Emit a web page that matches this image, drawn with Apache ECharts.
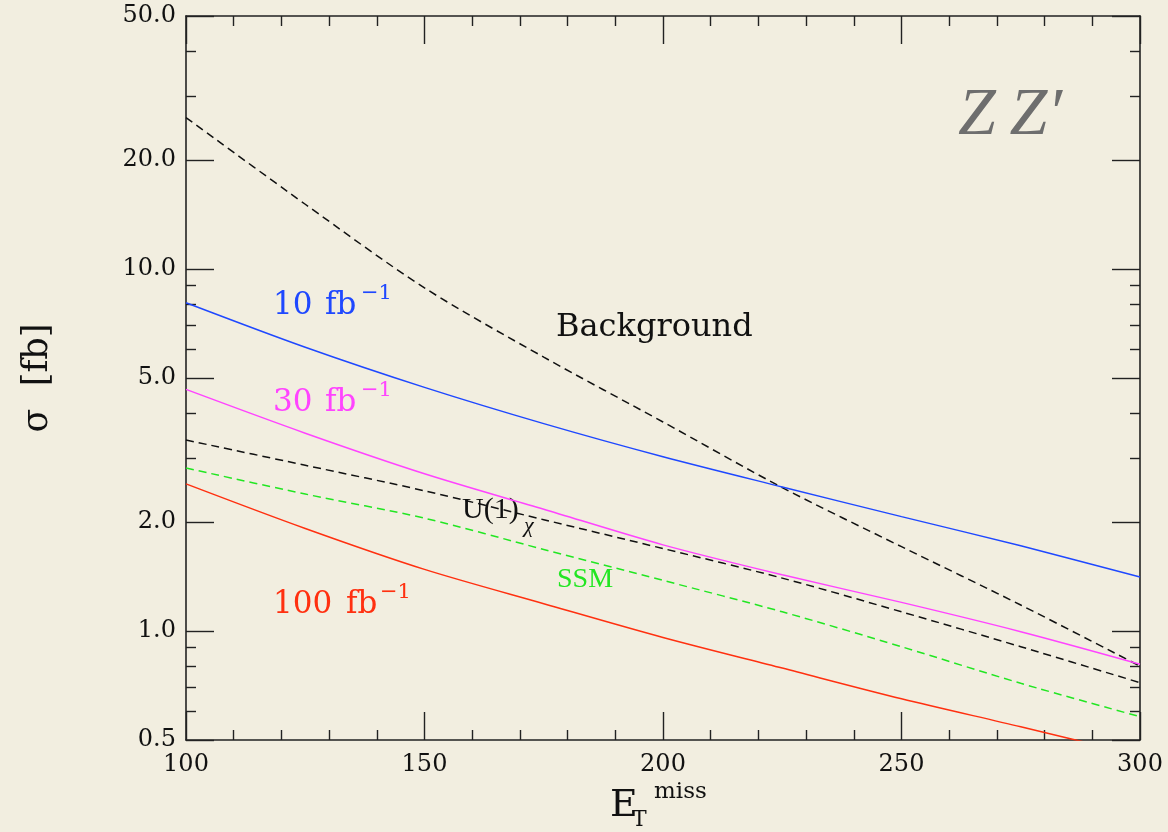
<!DOCTYPE html>
<html>
<head>
<meta charset="utf-8">
<title>ZZ' cross sections vs missing ET</title>
<script src="https://cdn.jsdelivr.net/npm/echarts@6/dist/echarts.min.js"></script>
<style>
  html, body { margin: 0; padding: 0; background: #f2eee0; }
  #chart { width: 1168px; height: 832px; }
</style>
</head>
<body>
<div id="chart"></div>
<script>
// Missing transverse energy cut values (GeV)
const etMiss = [100, 125, 150, 175, 200, 225, 250, 275, 300];

// Cross sections in fb
const discovery10 = [8.07, 6.08, 4.71, 3.74, 3.03, 2.50, 2.07, 1.72, 1.41];
const discovery30 = [4.65, 3.52, 2.72, 2.17, 1.73, 1.43, 1.20, 0.996, 0.81];
const discovery100 = [2.55, 1.92, 1.48, 1.19, 0.96, 0.79, 0.65, 0.544, 0.453];
const u1chi = [3.37, 2.87, 2.44, 2.03, 1.69, 1.40, 1.13, 0.905, 0.72];
const ssm = [2.82, 2.39, 2.05, 1.68, 1.38, 1.13, 0.905, 0.717, 0.58];
const background = [26.2, 15.1, 8.87, 5.71, 3.78, 2.49, 1.71, 1.18, 0.80];

// Axis ticks
const yMajorTicks = [0.5, 1, 2, 5, 10, 20, 50];
const yMinorTicks = [0.6, 0.7, 0.8, 0.9, 3, 4, 6, 7, 8, 9, 30, 40];

const chart = echarts.init(document.getElementById('chart'), null, { renderer: 'canvas' });

const AX = '#222';
const axisLine = { show: true, lineStyle: { color: AX, width: 1.6 } };
const tickLine = { color: AX, width: 1.4 };
const serif = 'DejaVu Serif';

function pairs(arr) {
  return etMiss.map((x, i) => [x, arr[i]]);
}

function curve(name, arr, color, dashed) {
  return {
    name: name,
    type: 'line',
    data: pairs(arr),
    showSymbol: false,
    smooth: 0.3,
    silent: true,
    clip: true,
    lineStyle: { color: color, width: 1.5, type: dashed ? [8, 5] : 'solid' }
  };
}

function yAxisDef(position, ticks, length, withLabels, withLine) {
  return {
    type: 'log',
    logBase: 10,
    min: 0.5,
    max: 50,
    position: position,
    axisLine: withLine ? axisLine : { show: false },
    axisTick: { show: true, inside: true, length: length, customValues: ticks, lineStyle: tickLine },
    axisLabel: withLabels ? {
      show: true,
      customValues: ticks,
      formatter: v => Number(v).toFixed(1),
      fontSize: 24,
      fontFamily: serif,
      color: '#111',
      margin: 10
    } : { show: false },
    splitLine: { show: false },
    minorTick: { show: false }
  };
}

function xAxisDef(position, withLabels) {
  return {
    type: 'value',
    min: 100,
    max: 300,
    interval: 50,
    position: position,
    axisLine: axisLine,
    axisTick: { show: true, inside: true, length: 28, lineStyle: tickLine },
    minorTick: { show: true, splitNumber: 5, length: 10, lineStyle: tickLine },
    axisLabel: withLabels ? {
      show: true, fontSize: 24, fontFamily: serif, color: '#111', margin: 13
    } : { show: false },
    splitLine: { show: false }
  };
}

const txt = (x, y, text, size, color, extra) => Object.assign({
  type: 'text', x: x, y: y, silent: true,
  style: Object.assign({
    text: text, fill: color, fontSize: size, fontFamily: serif,
    align: 'left', verticalAlign: 'middle'
  }, extra || {})
});

chart.setOption({
  animation: false,
  backgroundColor: '#f2eee0',
  grid: { left: 186, right: 28, top: 16, bottom: 92, containLabel: false },
  xAxis: [xAxisDef('bottom', true), xAxisDef('top', false)],
  yAxis: [
    yAxisDef('left', yMajorTicks, 28, true, true),
    yAxisDef('left', yMinorTicks, 10, false, false),
    yAxisDef('right', yMajorTicks, 28, false, true),
    yAxisDef('right', yMinorTicks, 10, false, false)
  ],
  series: [
    curve('Background', background, '#111', true),
    curve('10 fb-1', discovery10, '#1f48ff', false),
    curve('30 fb-1', discovery30, '#ff44ff', false),
    curve('U(1)chi', u1chi, '#111', true),
    curve('SSM', ssm, '#22e622', true),
    curve('100 fb-1', discovery100, '#ff3010', false)
  ],
  graphic: [
    // curve annotations
    txt(273, 306, '10', 31, '#1f48ff'),
    txt(325, 306, 'fb', 31, '#1f48ff'),
    txt(361, 294, '\u22121', 21, '#1f48ff'),
    txt(273, 403, '30', 31, '#ff44ff'),
    txt(325, 403, 'fb', 31, '#ff44ff'),
    txt(361, 391, '\u22121', 21, '#ff44ff'),
    txt(273, 605, '100', 31, '#ff3010'),
    txt(346, 605, 'fb', 31, '#ff3010'),
    txt(380, 593, '\u22121', 21, '#ff3010'),
    txt(556, 328, 'Background', 32, '#111'),
    txt(462, 510, 'U(1)', 30, '#111', { fontFamily: 'Liberation Serif' }),
    txt(524, 526, '\u03c7', 22, '#111', { fontFamily: 'Liberation Serif', fontStyle: 'italic' }),
    txt(557, 580, 'SSM', 28, '#22e622', { fontFamily: 'Liberation Serif' }),
    // model label
    txt(958, 116, 'Z\u2009Z\u2032', 68, '#6e6e6e', { fontFamily: 'Liberation Serif', fontStyle: 'italic' }),
    // axis titles
    {
      type: 'text', x: 38, y: 378, rotation: Math.PI / 2, silent: true,
      style: { text: '\u03c3  [fb]', fill: '#111', fontSize: 35, fontFamily: serif, align: 'center', verticalAlign: 'middle' }
    },
    txt(610, 806, 'E', 38, '#111'),
    txt(632, 820, 'T', 22, '#111'),
    txt(654, 792, 'miss', 23, '#111')
  ]
});
</script>
</body>
</html>
